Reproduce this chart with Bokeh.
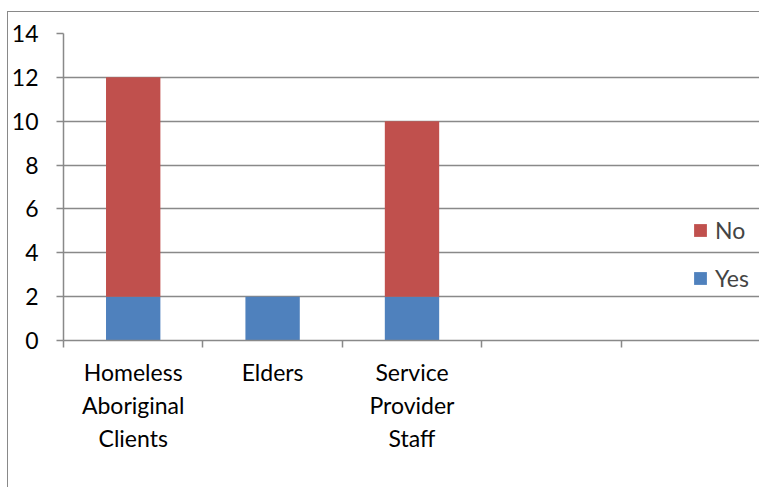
from bokeh.plotting import figure
from bokeh.models import (ColumnDataSource, FixedTicker, Legend, LegendItem, Range1d)
from bokeh.embed import file_html
from bokeh.resources import INLINE

categories = ["Homeless\nAboriginal\nClients", "Elders", "Service\nProvider\nStaff", "", ""]
yes_values = [2, 2, 2, 0, 0]
no_values = [10, 0, 8, 0, 0]
y_ticks = [0, 2, 4, 6, 8, 10, 12, 14]

BLUE = "#4F81BD"
RED = "#C0504D"
GREY = "#898989"
FONT = "Lato"

n = len(categories)
xs = [i + 0.5 for i in range(n)]
label_ticks = [x for x, c in zip(xs, categories) if c]
src = ColumnDataSource(dict(x=xs, Yes=yes_values, No=no_values))

p = figure(width=752, height=476, output_backend="svg", toolbar_location=None,
           x_range=Range1d(0, n), y_range=Range1d(0, 14),
           min_border_left=54, min_border_right=0, min_border_top=21, min_border_bottom=476 - 21 - 307)
p.styles = {"border-left": f"1px solid {GREY}", "border-top": f"1px solid {GREY}",
            "margin-left": "7px", "margin-top": "11px"}
p.outline_line_color = None
p.background_fill_color = "white"
p.border_fill_color = "white"

rs = p.vbar_stack(["Yes", "No"], x="x", width=0.39, source=src,
                  color=[BLUE, RED], line_color=None)

# y axis
ya = p.yaxis[0]
ya.ticker = FixedTicker(ticks=y_ticks)
ya.axis_line_color = GREY
ya.axis_line_width = 1.5
ya.major_tick_line_color = GREY
ya.major_tick_line_width = 1.5
ya.major_tick_out = 7
ya.major_tick_in = 0
ya.minor_tick_line_color = None
ya.major_label_text_font = FONT
ya.major_label_text_font_size = "23px"
ya.major_label_text_color = "black"
ya.major_label_standoff = 18

p.ygrid.ticker = FixedTicker(ticks=y_ticks)
p.ygrid.grid_line_color = GREY
p.ygrid.grid_line_width = 1.5
p.xgrid.grid_line_color = None

# x axis: labels at category centres, minor ticks at category boundaries
xa = p.xaxis[0]
xa.ticker = FixedTicker(ticks=label_ticks, minor_ticks=list(range(n + 1)))
xa.major_label_overrides = {x: c for x, c in zip(xs, categories) if c}
xa.axis_line_color = GREY
xa.axis_line_width = 1.5
xa.major_tick_line_color = None
xa.major_tick_out = 0
xa.major_tick_in = 0
xa.minor_tick_line_color = GREY
xa.minor_tick_line_width = 1.5
xa.minor_tick_out = 7
xa.minor_tick_in = 0
xa.major_label_text_font = FONT
xa.major_label_text_font_size = "23px"
xa.major_label_text_color = "black"
xa.major_label_text_line_height = 1.18
xa.major_label_standoff = 10

legend = Legend(items=[LegendItem(label="No", renderers=[rs[1]]),
                       LegendItem(label="Yes", renderers=[rs[0]])],
                location=(629, 48), padding=0, margin=0, spacing=20,
                glyph_width=16, glyph_height=16, label_height=16,
                label_text_font=FONT, label_text_font_size="23px",
                label_standoff=7, border_line_color=None,
                background_fill_alpha=0)
p.add_layout(legend, "center")

open("out.html", "w").write(file_html(p, INLINE))
